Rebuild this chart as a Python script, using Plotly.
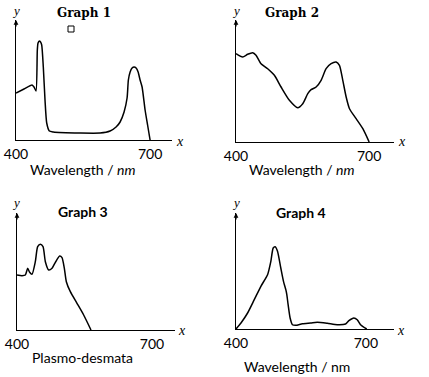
import plotly.graph_objects as go

W, H = 429, 377

# ---- data (wavelength nm, relative absorption) ----
g1_x = [400, 417.9, 435.8, 440.3, 444.8, 447.7, 449.3, 452.2, 454.9, 457.5, 461.1, 464.9, 468.7,
        474.6, 483.5, 543.3, 588.1, 610.5, 623.9, 632.9, 641.8, 648.5, 651.4, 655.3, 659.7, 664.2,
        668.7, 673.2, 677.6, 682.1, 688.8, 694.4, 700]
g1_y = [47, 51, 55, 53, 49, 90, 97, 99, 98, 95, 73, 40, 17,
        9, 8, 7, 7, 9, 13, 18, 28, 42, 60, 68, 72, 73,
        72, 68, 60, 53, 30, 15, 0]

g2_x = [400, 415.0, 426.3, 437.6, 445.1, 456.4, 471.4, 486.5, 501.5, 520.3, 539.1, 550.4, 561.7,
        569.2, 580.5, 591.8, 603.0, 614.3, 625.6, 633.1, 640.6, 648.2, 655.7, 670.7, 685.8, 700]
g2_y = [88.3, 85, 87.7, 89.3, 86.7, 78.3, 73.3, 66.7, 55, 41.7, 34.3, 38.3, 48.3,
        52.3, 55, 61.7, 73.3, 78.3, 80, 76.7, 61.7, 45, 33.3, 23.3, 13.3, 0]

g3_x = [400, 411.1, 418.5, 423.7, 428.1, 433.3, 440.7, 445.9, 451.9, 457.8, 463.0, 470.4, 477.8,
        485.2, 494.8, 500.0, 505.2, 509.6, 518.5, 533.3, 548.1, 564.4]
g3_y = [55, 54.3, 55, 61.7, 57.7, 55.7, 68.3, 83.3, 85.7, 83.3, 68.3, 60, 61.7,
        67.7, 74, 72.3, 61.7, 48.3, 38.3, 26.7, 15, 0]

g4_x = [400, 411.5, 426.8, 442.2, 457.5, 472.9, 480.5, 485.9, 490.5, 495.9, 503.5, 509.7, 515.1,
        517.4, 520.4, 525.0, 530.4, 538.1, 553.4, 572.6, 587.9, 610.9, 633.9, 653.1, 660.8, 672.3,
        680.0, 687.6, 702]
g4_y = [0, 6, 16, 29.3, 42.7, 54.3, 67.7, 81, 82.3, 77.7, 61, 47.7, 39.3,
        34.3, 24.3, 11, 4.3, 3.7, 5.3, 6, 6.7, 5.7, 4.3, 5, 8.3, 11,
        9.3, 4.3, 0]

titles = ["Graph 1", "Graph 2", "Graph 3", "Graph 4"]
xlabels = ["Wavelength / <i>nm</i>", "Wavelength / <i>nm</i>", "Plasmo-desmata", "Wavelength / nm"]
tick_vals = [400, 700]
tick_text = ["400", "700"]

# ---- layout geometry (pixels) ----
panels = [
    dict(l=16, r=172, b=140, t=20, xmax=749, ymax=120, tt=(84, 13), lab=(83, 170), yl=(16, 11), xl=(180, 142)),
    dict(l=236, r=394, b=142, t=20, xmax=756, ymax=122, tt=(292, 13), lab=(302, 170), yl=(236, 11), xl=(402, 142)),
    dict(l=17, r=175, b=330, t=213, xmax=751, ymax=117, tt=(83, 211), lab=(82, 357), yl=(16, 202), xl=(182, 330)),
    dict(l=236, r=394, b=329, t=213, xmax=765, ymax=116, tt=(301, 212), lab=(297, 366), yl=(236, 202), xl=(401, 330)),
]
series = [(g1_x, g1_y), (g2_x, g2_y), (g3_x, g3_y), (g4_x, g4_y)]

fig = go.Figure()
annotations = []
font_main = "Lato"

def px(x):
    return x / W

def py(y):
    return 1 - y / H

for i, (p, (xs, ys)) in enumerate(zip(panels, series)):
    n = "" if i == 0 else str(i + 1)
    fig.add_trace(go.Scatter(x=xs, y=ys, mode="lines", line=dict(color="black", width=1.5, shape="spline", smoothing=0.6),
                             xaxis="x" + n, yaxis="y" + n, showlegend=False, hoverinfo="skip"))
    fig.update_layout(**{
        "xaxis" + n: dict(domain=[px(p["l"]), px(p["r"])], range=[400, p["xmax"]], anchor="y" + n,
                          automargin=False, fixedrange=True,
                          showline=True, linecolor="black", linewidth=1.3, showgrid=False, zeroline=False,
                          tickvals=tick_vals, ticktext=tick_text, ticks="", ticklabelstandoff=1,
                          tickfont=dict(family=font_main, size=14, color="black")),
        "yaxis" + n: dict(domain=[py(p["b"]), py(p["t"])], range=[0, p["ymax"]], anchor="x" + n,
                          automargin=False, fixedrange=True,
                          showline=True, linecolor="black", linewidth=1.3, showgrid=False, zeroline=False,
                          showticklabels=False, ticks=""),
    })
    xr, yr = "x" + n, "y" + n
    annotations.append(dict(x=400, y=p["ymax"], xref=xr, yref=yr, ax=0, ay=8, text="", showarrow=True,
                            arrowhead=2, arrowsize=0.8, arrowwidth=1.2, arrowcolor="black"))
    bold = i < 2
    annotations.append(dict(x=px(p["tt"][0]), y=py(p["tt"][1]), xref="paper", yref="paper", showarrow=False,
                            text="<b>%s</b>" % titles[i],
                            font=dict(family="DejaVu Serif" if bold else font_main, size=12 if bold else 14, color="black"),
                            xanchor="center", yanchor="middle"))
    annotations.append(dict(x=px(p["lab"][0]), y=py(p["lab"][1]), xref="paper", yref="paper", showarrow=False,
                            text=xlabels[i], font=dict(family=font_main, size=14, color="black"),
                            xanchor="center", yanchor="middle"))
    annotations.append(dict(x=px(p["yl"][0]), y=py(p["yl"][1]), xref="paper", yref="paper", showarrow=False,
                            text="<i>y</i>", font=dict(family="Liberation Serif", size=13, color="black"),
                            xanchor="center", yanchor="middle"))
    annotations.append(dict(x=px(p["xl"][0]), y=py(p["xl"][1]), xref="paper", yref="paper", showarrow=False,
                            text="<i>x</i>", font=dict(family="Liberation Serif", size=14, color="black"),
                            xanchor="center", yanchor="middle"))

fig.update_layout(
    width=W, height=H, margin=dict(l=0, r=0, t=0, b=0, autoexpand=False),
    paper_bgcolor="white", plot_bgcolor="white",
    annotations=annotations,
    shapes=[dict(type="rect", xref="paper", yref="paper", x0=px(68), x1=px(74), y0=py(32), y1=py(26),
                 line=dict(color="black", width=1))],
)

fig.write_html("out.html", config={"displayModeBar": False, "staticPlot": True},
               post_script="document.body.style.margin='0px';document.body.style.overflow='hidden';")
